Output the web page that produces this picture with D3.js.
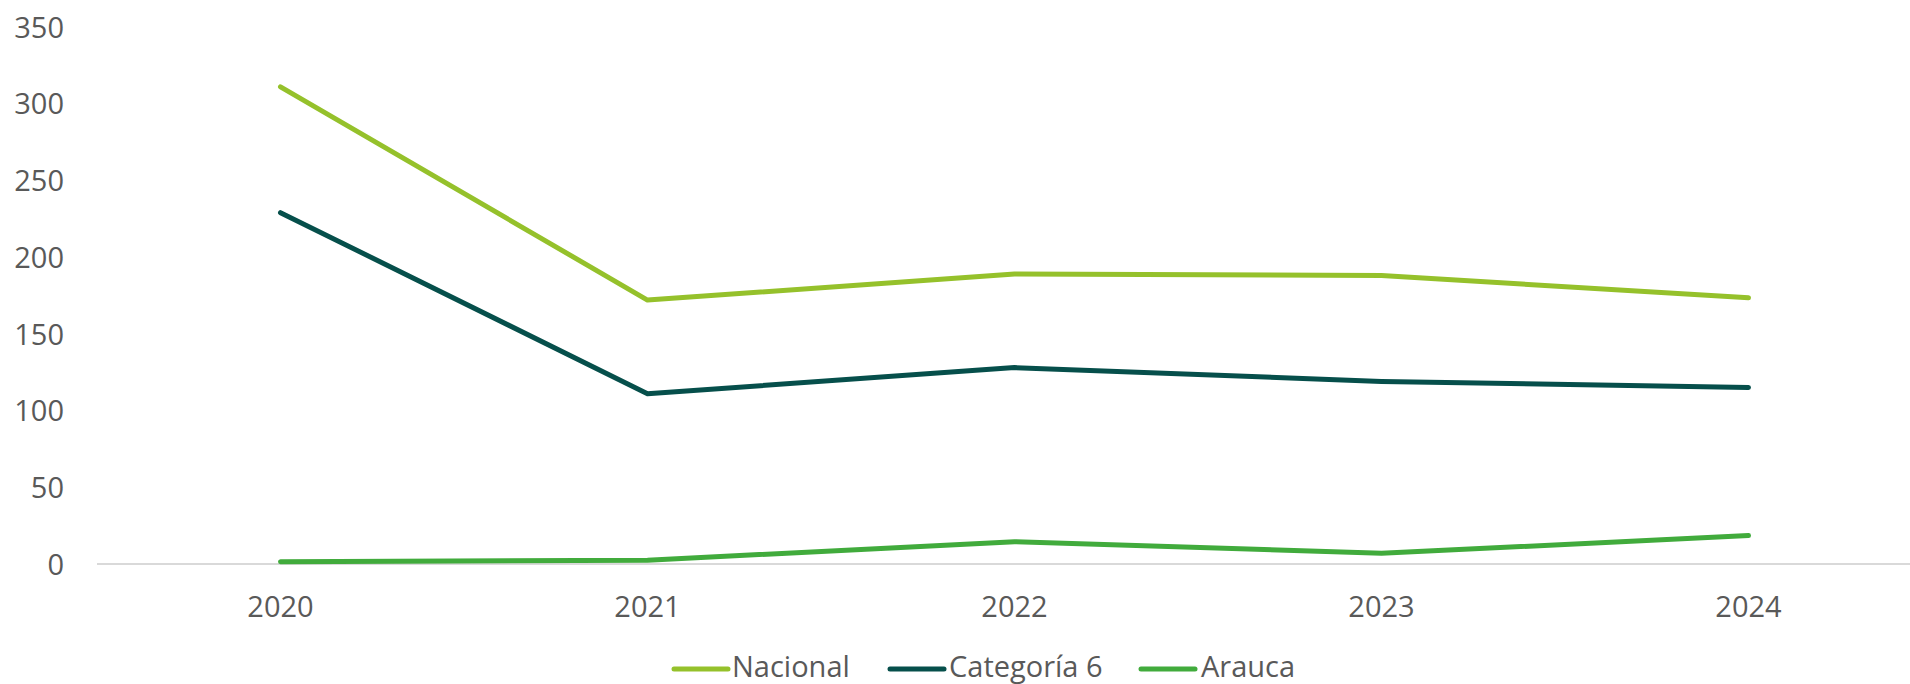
<!DOCTYPE html>
<html>
<head>
<meta charset="utf-8">
<script src="https://cdn.jsdelivr.net/npm/d3@7"></script>
<style>
  html, body { margin: 0; padding: 0; background: #ffffff; }
  svg { display: block; }
  text { font-family: "Open Sans", "Liberation Sans", sans-serif; fill: #595959; }
</style>
</head>
<body>
<svg id="chart" width="1910" height="684"></svg>
<script>
const categories = ["2020", "2021", "2022", "2023", "2024"];
const nacional   = [311, 172, 189, 188, 173.5];
const categoria6 = [229, 111, 128, 119, 115];
const arauca     = [1.5, 2.5, 14.5, 7, 18.5];
const seriesNames  = ["Nacional", "Categoría 6", "Arauca"];
const seriesColors = ["#95c12b", "#064f4b", "#41ab3c"];
const yTicks = [0, 50, 100, 150, 200, 250, 300, 350];

const seriesData = [nacional, categoria6, arauca];

const svg = d3.select("#chart");
const W = 1910, H = 684;
const plotLeft = 97, plotRight = 1932, plotTop = 27, plotBottom = 564;
const fontSize = "29px";

const x = d3.scaleBand().domain(categories).range([plotLeft, plotRight]).padding(0);
const y = d3.scaleLinear().domain([0, 350]).range([plotBottom, plotTop]);

// y axis labels
const yAxis = d3.axisLeft(y).tickValues(yTicks).tickSize(0).tickPadding(0);
const gy = svg.append("g").attr("transform", `translate(64,0)`).call(yAxis);
gy.select(".domain").remove();
gy.selectAll("text").style("font-size", fontSize).attr("fill", "#595959").attr("dy", "0.35em");

// x axis
const xAxis = d3.axisBottom(x).tickSize(0).tickPadding(0);
const gx = svg.append("g").attr("transform", `translate(0,${plotBottom})`).call(xAxis);
gx.select(".domain").attr("stroke", "#d9d9d9").attr("stroke-width", 2)
  .attr("d", `M${plotLeft},0H${W}`);
gx.selectAll("text").style("font-size", fontSize).attr("fill", "#595959")
  .attr("dy", "0").attr("y", 53);

// lines
const line = d3.line()
  .x((d, i) => x(categories[i]) + x.bandwidth() / 2)
  .y(d => y(d));

seriesData.forEach((s, k) => {
  svg.append("path")
    .datum(s)
    .attr("fill", "none")
    .attr("stroke", seriesColors[k])
    .attr("stroke-width", 5)
    .attr("stroke-linecap", "round")
    .attr("stroke-linejoin", "round")
    .attr("d", line);
});

// legend
const legendY = 669;
const legendItems = [
  { sx: 674, tx: 732 },
  { sx: 890, tx: 949 },
  { sx: 1141, tx: 1201 }
];
const lg = svg.append("g");
seriesNames.forEach((name, k) => {
  const it = legendItems[k];
  lg.append("line")
    .attr("x1", it.sx).attr("x2", it.sx + 54)
    .attr("y1", legendY).attr("y2", legendY)
    .attr("stroke", seriesColors[k]).attr("stroke-width", 5)
    .attr("stroke-linecap", "round");
  lg.append("text")
    .attr("x", it.tx).attr("y", 677)
    .style("font-size", fontSize)
    .text(name);
});
</script>
</body>
</html>
